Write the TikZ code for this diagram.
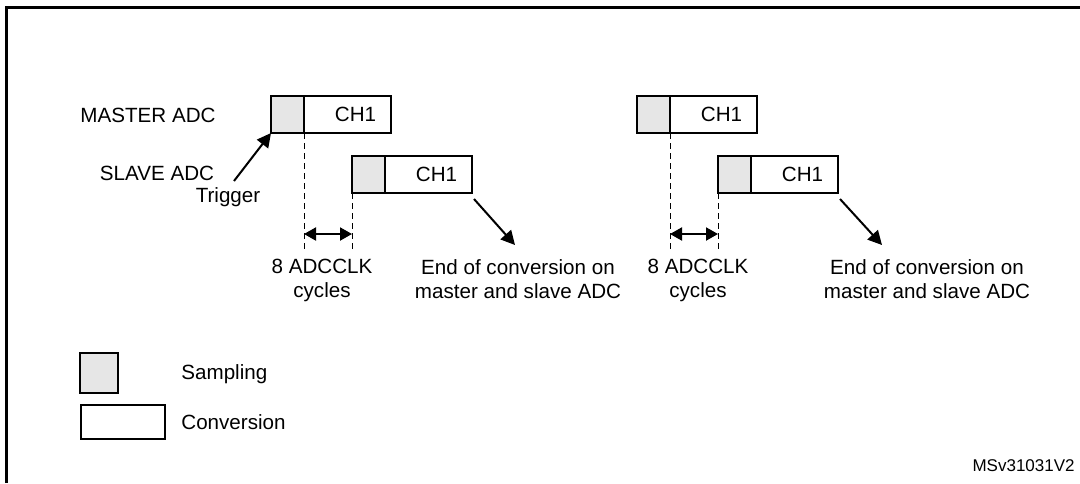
\documentclass[tikz,border=0pt]{standalone}
\usepackage{fontspec}
\setmainfont{Liberation Sans}
\usepackage{tikz}
\usetikzlibrary{arrows.meta,positioning}
\definecolor{sampgray}{HTML}{E6E6E6}
\newcommand{\lblfont}{\fontsize{10.3}{12}\selectfont}
\newcommand{\tagfont}{\fontsize{8.5}{10}\selectfont}
\tikzset{
  samp/.style={draw,line width=1pt,fill=sampgray,minimum width=16.5pt,minimum height=18.5pt,inner sep=0pt,outer sep=0pt},
  conv/.style={draw,line width=1pt,fill=white,minimum width=43.5pt,minimum height=18.5pt,inner sep=0pt,outer sep=0pt,font=\lblfont},
  lbl/.style={font=\lblfont,inner sep=0pt},
  note/.style={font=\lblfont,inner sep=0pt,align=center,anchor=north},
  guide/.style={line width=0.5pt,dash pattern=on 3pt off 2pt},
  span/.style={line width=1pt,{Triangle[length=6pt,width=6.5pt]}-{Triangle[length=6pt,width=6.5pt]}},
  pointer/.style={line width=1pt,-{Triangle[length=7pt,width=7pt]}},
}

\begin{document}
\begin{tikzpicture}[x=0.5pt,y=-0.5pt]
  \useasboundingbox (0,0) rectangle (1080,483);
  \draw[line width=1.5pt] (6,483) -- (6,7) -- (1080,7);

  \node[lbl,anchor=base] (mlab) at (148,122) {MASTER ADC};
  \node[lbl,anchor=base] (slab) at (157,180) {SLAVE ADC};
  \node[lbl,anchor=base] (tlab) at (228,202) {Trigger};

  % first conversion
  \node[samp,anchor=north west] (ms1) at (271,96) {};
  \node[conv,right=0pt of ms1] (mc1) {\hspace*{8pt}CH1};
  \node[samp,anchor=north west] (ss1) at (352,156) {};
  \node[conv,right=0pt of ss1] (sc1) {\hspace*{8pt}CH1};
  \coordinate (base1) at (0,250);
  \coordinate (gap1) at (0,234);
  \coordinate (trg) at (234,181);
  \coordinate (eoc1) at (515,245);
  \draw[guide] (ms1.south east) -- (ms1.south east |- base1);
  \draw[guide] (ss1.south west) -- (ss1.south west |- base1);
  \draw[span] (ms1.south east |- gap1) -- (ss1.south west |- gap1);
  \draw[pointer] (trg) -- (ms1.south west);
  \draw[pointer] ([shift={(2,6)}]sc1.south east) -- (eoc1);
  \node[note] (cyc1) at (322,259) {8 ADCCLK\\cycles};
  \node[note] (end1) at (518,259) {End of conversion on\\master and slave ADC};

  % second conversion
  \begin{scope}[xshift=183pt]
    \node[samp,anchor=north west] (ms2) at (271,96) {};
    \node[conv,right=0pt of ms2] (mc2) {\hspace*{8pt}CH1};
    \node[samp,anchor=north west] (ss2) at (352,156) {};
    \node[conv,right=0pt of ss2] (sc2) {\hspace*{8pt}CH1};
    \coordinate (base2) at (0,250);
    \coordinate (gap2) at (0,234);
    \coordinate (eoc2) at (516,245);
    \draw[guide] (ms2.south east) -- (ms2.south east |- base2);
    \draw[guide] (ss2.south west) -- (ss2.south west |- base2);
    \draw[span] (ms2.south east |- gap2) -- (ss2.south west |- gap2);
    \draw[pointer] ([shift={(2,6)}]sc2.south east) -- (eoc2);
    \node[note] (cyc2) at (332,259) {8 ADCCLK\\cycles};
    \node[note] (end2) at (561,259) {End of conversion on\\master and slave ADC};
  \end{scope}

  % legend
  \node[samp,minimum width=19pt,minimum height=20pt,anchor=north west] (keysamp) at (80,353) {};
  \node[conv,minimum width=42pt,minimum height=17pt,anchor=north west] (keyconv) at (81,405) {};
  \node[lbl,anchor=base west] (sampl) at (181,379) {Sampling};
  \node[lbl,anchor=base west] (convl) at (181,429) {Conversion};

  \node[font=\tagfont,inner sep=0pt,anchor=base east] (ref) at (1075,471) {MSv31031V2};
\end{tikzpicture}
\end{document}
